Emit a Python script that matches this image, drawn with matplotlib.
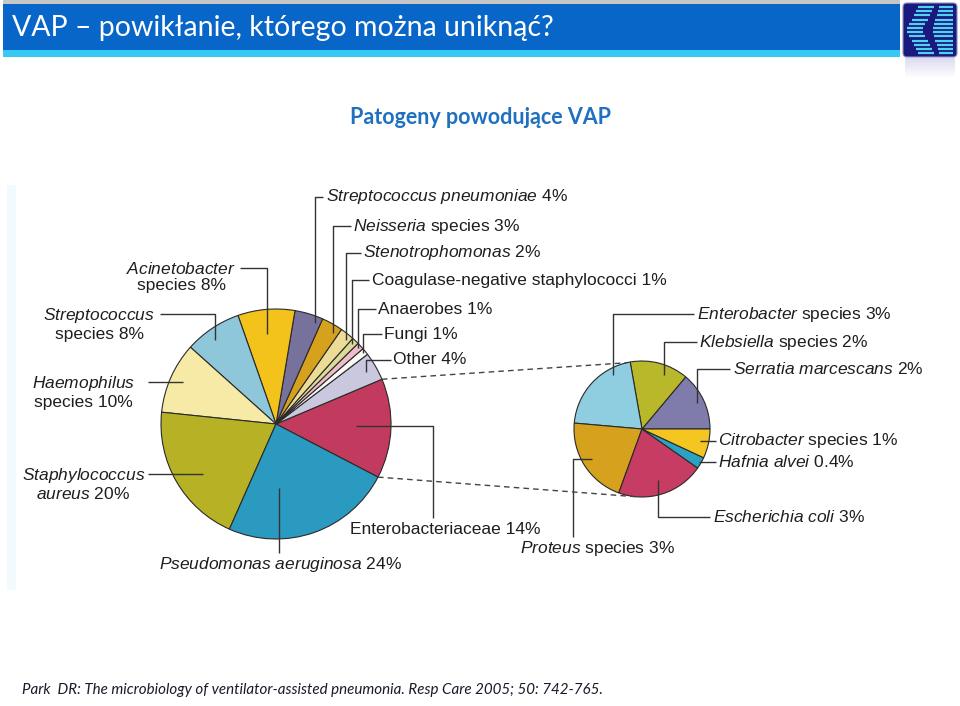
import numpy as np
import matplotlib
matplotlib.use('Agg')
import matplotlib.pyplot as plt
from matplotlib.patches import Rectangle, FancyBboxPatch

plt.rcParams['font.family'] = ['Liberation Sans', 'DejaVu Sans']
plt.rcParams['mathtext.fontset'] = 'custom'
plt.rcParams['mathtext.rm'] = 'Liberation Sans'
plt.rcParams['mathtext.it'] = 'Liberation Sans:italic'

W, H = 960, 706

# main pie, % of VAP pathogens, counterclockwise starting at Enterobacteriaceae
# (PCT gets replaced by the value)
main_fmt = ['Enterobacteriaceae PCT', 'Other PCT', 'Fungi PCT', 'Anaerobes PCT',
            'Coagulase-negative staphylococci PCT', r'$\mathit{Stenotrophomonas}$ PCT',
            r'$\mathit{Neisseria}$ species PCT', r'$\mathit{Streptococcus\ pneumoniae}$ PCT',
            '$\\mathit{Acinetobacter}$\nspecies PCT', '$\\mathit{Streptococcus}$\nspecies PCT',
            '$\\mathit{Haemophilus}$\nspecies PCT', '$\\mathit{Staphylococcus}$\n$\\mathit{aureus}$ PCT',
            r'$\mathit{Pseudomonas\ aeruginosa}$ PCT']
main_values = [14, 4, 1, 1, 1, 2, 3, 4, 8, 8, 10, 20, 24]
main_colors = ['#c23a5e', '#c9c8df', '#fbfbf6', '#eebccb', '#dcdc96', '#ecdc98', '#d6a21e',
               '#77729c', '#f3c31b', '#8ec6da', '#f6eaa6', '#b7b225', '#2b9ac0']

# Enterobacteriaceae broken down (% of all pathogens), counterclockwise from 0 deg
sub_fmt = [r'$\mathit{Serratia\ marcescans}$ PCT', r'$\mathit{Klebsiella}$ species PCT',
           r'$\mathit{Enterobacter}$ species PCT', r'$\mathit{Proteus}$ species PCT',
           r'$\mathit{Escherichia\ coli}$ PCT', r'$\mathit{Hafnia\ alvei}$ PCT',
           r'$\mathit{Citrobacter}$ species PCT']
sub_values = [2, 2, 3, 3, 3, 0.4, 1]
sub_colors = ['#7f7cac', '#b9b72a', '#8fcde0', '#d6a21e', '#c63c62', '#2ba2c2', '#f5c61f']

# label layout: text x, text y (pixels from top), ha, leader end x, end y, elbow,
# position inside wedge (fraction of span, fraction of radius)
main_lay = [(350, 530, 'left', 433, 518, 'h', 0.52, 0.70),
            (393, 360, 'left', 391, 360, 'v', 0.5, 0.90),
            (384, 334, 'left', 382, 334, 'v', 0.5, 0.98),
            (378, 309, 'left', 376, 309, 'v', 0.5, 0.97),
            (372, 280, 'left', 369, 280, 'v', 0.5, 0.96),
            (363, 253, 'left', 361, 253, 'v', 0.26, 0.95),
            (353, 226, 'left', 351, 226, 'v', 0.25, 0.93),
            (326, 197, 'left', 323, 197, 'v', 0.2, 0.94),
            (236, 277, 'right', 240, 268, 'v', 0.52, 0.79),
            (155, 324, 'right', 160, 314, 'v', 0.58, 0.90),
            (135, 392, 'right', 148, 382, 'v', 0.49, 0.89),
            (145, 484, 'right', 148, 474, 'v', 0.56, 0.77),
            (280, 565, 'center', 279, 553, 'h', 0.31, 0.56)]
sub_lay = [(733, 369, 'left', 730, 369, 'v', 0.5, 0.90),
           (699, 342, 'left', 697, 342, 'v', 0.36, 0.86),
           (697, 314, 'left', 694, 314, 'v', 0.24, 0.90),
           (520, 548, 'left', 573, 537, 'h', 0.48, 0.86),
           (713, 517, 'left', 710, 517, 'v', 0.5, 0.78),
           (718, 462, 'left', 716, 462, 'v', 0.5, 0.97),
           (718, 441, 'left', 716, 441, 'v', 0.53, 0.87)]

TXT = '#1e1e1e'


def Y(y):
    return H - y


fig = plt.figure(figsize=(W / 100, H / 100), dpi=100)
ax = fig.add_axes([0, 0, 1, 1])


def draw_pie(values, colors, cx, cy, r, start, fmts, lay):
    ax.pie(values, colors=colors, center=(cx, Y(cy)), radius=r, startangle=start,
           counterclock=True, wedgeprops=dict(edgecolor='#2a2a2a', linewidth=0.8))
    total = float(sum(values))
    a0 = start
    for v, f, (tx, ty, ha, ex, ey, kind, fa, fr) in zip(values, fmts, lay):
        span = 360 * v / total
        ang = np.radians(a0 + fa * span)
        px = cx + fr * r * np.cos(ang)
        py = cy - fr * r * np.sin(ang)
        if kind == 'v':
            xs, ys = [px, px, ex], [py, ey, ey]
        else:
            xs, ys = [px, ex, ex], [py, py, ey]
        ax.plot(xs, [Y(y) for y in ys], color='#333333', lw=1.0, solid_capstyle='butt')
        ax.text(tx, Y(ty), f.replace('PCT', f'{v:g}%'), ha=ha, va='center', fontsize=12.5,
                color=TXT, multialignment='center', linespacing=1.15)
        a0 += span


main_c = (276, 424, 115)
sub_c = (642, 429, 68)
main_start = -27.5
draw_pie(main_values, main_colors, *main_c, main_start, main_fmt, main_lay)
draw_pie(sub_values, sub_colors, *sub_c, 0, sub_fmt, sub_lay)

# dashed connectors from the Enterobacteriaceae wedge to the breakdown pie
ent_span = 360 * main_values[0] / sum(main_values)
for a_main, a_sub in [(main_start + ent_span, 103), (main_start, -94)]:
    x0 = main_c[0] + main_c[2] * np.cos(np.radians(a_main))
    y0 = main_c[1] - main_c[2] * np.sin(np.radians(a_main))
    x1 = sub_c[0] + sub_c[2] * np.cos(np.radians(a_sub))
    y1 = sub_c[1] - sub_c[2] * np.sin(np.radians(a_sub))
    ax.plot([x0, x1], [Y(y0), Y(y1)], color='#444444', lw=1.0, dashes=(4, 3))

# slide header
ax.add_patch(Rectangle((3, Y(4)), 897, 4, color='#c6c6c6', lw=0))
ax.add_patch(Rectangle((3, Y(50)), 897, 46, color='#0866c8', lw=0))
ax.add_patch(Rectangle((3, Y(57)), 897, 7, color='#38c8f4', lw=0))
ax.text(12, Y(28), 'VAP – powikłanie, którego można uniknąć?', color='white',
        fontsize=20.5, family=['Lato', 'DejaVu Sans'], ha='left', va='center')

# logo
ax.add_patch(FancyBboxPatch((903, Y(57)), 54, 54, boxstyle='round,pad=0,rounding_size=4',
                            fc='#1a1a7e', ec='#9090c0', lw=0.8))
for i in range(12):
    yy = 7 + 4.2 * i
    off = abs(i - 5.5) * 2.2
    ax.plot([906 + off, 922 + off], [Y(yy), Y(yy)], color='#4fd2f2', lw=1.6, solid_capstyle='butt')
    ax.plot([932 + off * 0.6, 953], [Y(yy), Y(yy)], color='#4fd2f2', lw=1.6, solid_capstyle='butt')
for k in range(10):
    ax.add_patch(Rectangle((905, Y(59 + 2 * k)), 50, 2, color='#b8b8e0', alpha=0.5 * (1 - k / 10), lw=0))

# subtitle
ax.text(480, Y(117), 'Patogeny powodujące VAP', color='#1f70be', fontsize=15.5,
        family=['Lato', 'DejaVu Sans'], fontweight='bold', ha='center', va='center')

# faint scan edge
ax.add_patch(Rectangle((7, Y(590)), 9, 405, color='#f3fafd', lw=0))

# citation
ax.text(22, Y(690), 'Park  DR: The microbiology of ventilator-assisted pneumonia. Resp Care 2005; 50: 742-765.',
        color='#1a1a2a', fontsize=10.9, family=['Lato', 'DejaVu Sans'], style='italic',
        ha='left', va='center')

ax.set_xlim(0, W)
ax.set_ylim(0, H)
ax.set_aspect('equal')
ax.axis('off')
fig.savefig('out.png', dpi=100, facecolor='white')
